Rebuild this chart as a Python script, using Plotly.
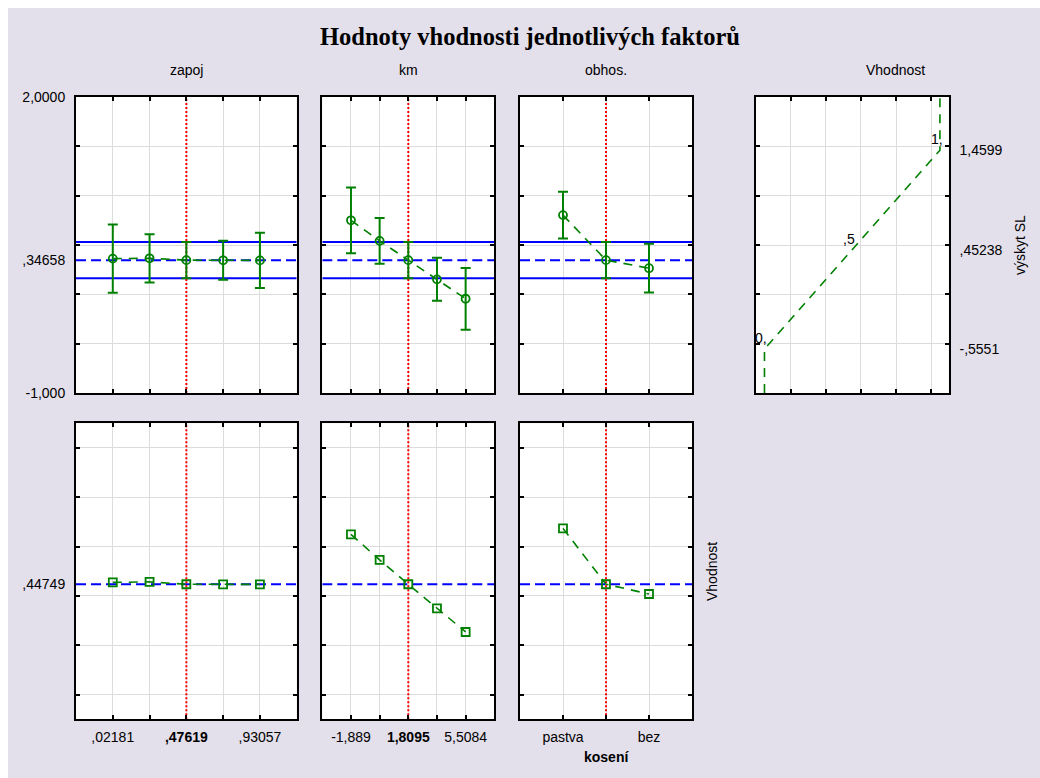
import plotly.graph_objects as go

# ---- data -------------------------------------------------------------
title_text = "Hodnoty vhodnosti jednotlivých faktorů"
factor_names = ["zapoj", "km", "obhos.", "Vhodnost"]

zapoj_levels = [0.02181, 0.24900, 0.47619, 0.70338, 0.93057]
zapoj_labels = [",02181", "", "<b>,47619</b>", "", ",93057"]
zapoj_resp = [0.362, 0.365, 0.3466, 0.345, 0.344]
zapoj_err = [0.345, 0.245, 0.183, 0.197, 0.280]
zapoj_desir = [0.455, 0.457, 0.4475, 0.447, 0.447]
zapoj_current = 0.47619

km_levels = [-1.889, -0.0398, 1.8095, 3.6590, 5.5084]
km_labels = ["-1,889", "", "<b>1,8095</b>", "", "5,5084"]
km_resp = [0.750, 0.542, 0.3466, 0.152, -0.045]
km_err = [0.333, 0.232, 0.183, 0.218, 0.313]
km_desir = [0.650, 0.546, 0.4475, 0.350, 0.254]
km_current = 1.8095

obhos_levels = [1, 2, 3]
obhos_labels = ["pastva", "", "bez"]
obhos_resp = [0.803, 0.3466, 0.265]
obhos_err = [0.237, 0.183, 0.247]
obhos_desir = [0.674, 0.4475, 0.408]
obhos_current = 2
obhos_title = "kosení"

pred_resp = 0.34658
pred_ci = [0.1636, 0.5296]
pred_desir = 0.44749

resp_range = [-1.0, 2.0]
resp_grid = [-0.5, 0.0, 0.5, 1.0, 1.5]
resp_ticks = [-1.0, 0.34658, 2.0]
resp_ticktext = ["-1,000", ",34658", "2,0000"]

desir_range = [-0.1, 1.1]
desir_grid = [0.0, 0.2, 0.4, 0.6, 0.8, 1.0]

# desirability function of the response (výskyt SL)
dfun_resp = [-1.0, -0.5551, 0.45238, 1.4599, 2.0]
dfun_val = [0.0, 0.0, 0.5, 1.0, 1.0]
dfun_knot_resp = [-0.5551, 0.45238, 1.4599]
dfun_knot_val = [0.0, 0.5, 1.0]
dfun_knot_text = ["0,", ",5", "1,"]
dfun_ticktext = ["-,5551", ",45238", "1,4599"]
dfun_x_grid = [0.15, 0.35, 0.55, 0.75, 0.95]
dfun_x_range = [-0.05, 1.05]

# ---- layout geometry (pixels) -----------------------------------------
W, H = 1040, 778
GREEN = "#008000"
BLUE = "#0000FF"
RED = "#FF0000"
GRID = "#DCDCDC"
BG = "#E3DFEB"
FONT = "Liberation Sans, Arial, sans-serif"


def fx(a):
    return a / W


def fy(a):
    return 1 - a / H


def px_x(a, b):
    return [fx(a), fx(b)]


def px_y(top, bottom):
    return [fy(bottom), fy(top)]


cols = [(76, 296.7), (322.3, 494.3), (520, 692), (755.7, 948.7)]
top_row = (97, 393)
bot_row = (423.3, 719.3)

fig = go.Figure()

levels = [zapoj_levels, km_levels, obhos_levels]
resps = [zapoj_resp, km_resp, obhos_resp]
errs = [zapoj_err, km_err, obhos_err]
desirs = [zapoj_desir, km_desir, obhos_desir]
currents = [zapoj_current, km_current, obhos_current]
labels = [zapoj_labels, km_labels, obhos_labels]

DASH_BLUE = "10px,5px"
DASH_GREEN = "9px,7px"
DOT_RED = "2px,2px"


def x_range_for(lv):
    step = lv[1] - lv[0]
    return [lv[0] - step, lv[-1] + step]


# top row: predicted response per factor
for i in range(3):
    xa, ya = f"x{i + 1}", f"y{i + 1}"
    xr = x_range_for(levels[i])
    for yv in pred_ci:
        fig.add_trace(go.Scatter(x=xr, y=[yv, yv], mode="lines",
                                 line=dict(color=BLUE, width=2),
                                 xaxis=xa, yaxis=ya, hoverinfo="skip"))
    fig.add_trace(go.Scatter(x=xr, y=[pred_resp, pred_resp], mode="lines",
                             line=dict(color=BLUE, width=2, dash=DASH_BLUE),
                             xaxis=xa, yaxis=ya, hoverinfo="skip"))
    fig.add_trace(go.Scatter(x=[currents[i], currents[i]], y=resp_range, mode="lines",
                             line=dict(color=RED, width=2, dash=DOT_RED),
                             xaxis=xa, yaxis=ya, hoverinfo="skip"))
    fig.add_trace(go.Scatter(x=levels[i], y=resps[i], mode="lines+markers",
                             line=dict(color=GREEN, width=1.6, dash=DASH_GREEN),
                             marker=dict(symbol="circle-open", size=8, color=GREEN,
                                         line=dict(width=1.8, color=GREEN)),
                             error_y=dict(type="data", array=errs[i], visible=True,
                                          color=GREEN, thickness=2, width=5),
                             xaxis=xa, yaxis=ya))

# bottom row: desirability per factor
for i in range(3):
    xa, ya = f"x{i + 5}", f"y{i + 5}"
    xr = x_range_for(levels[i])
    fig.add_trace(go.Scatter(x=xr, y=[pred_desir, pred_desir], mode="lines",
                             line=dict(color=BLUE, width=2, dash=DASH_BLUE),
                             xaxis=xa, yaxis=ya, hoverinfo="skip"))
    fig.add_trace(go.Scatter(x=[currents[i], currents[i]], y=desir_range, mode="lines",
                             line=dict(color=RED, width=2, dash=DOT_RED),
                             xaxis=xa, yaxis=ya, hoverinfo="skip"))
    fig.add_trace(go.Scatter(x=levels[i], y=desirs[i], mode="lines+markers",
                             line=dict(color=GREEN, width=1.6, dash=DASH_GREEN),
                             marker=dict(symbol="square-open", size=8, color=GREEN,
                                         line=dict(width=1.8, color=GREEN)),
                             xaxis=xa, yaxis=ya))

# desirability function panel
fig.add_trace(go.Scatter(x=dfun_val, y=dfun_resp, mode="lines",
                         line=dict(color=GREEN, width=1.6, dash=DASH_GREEN),
                         xaxis="x4", yaxis="y4"))

frame = dict(showline=True, linecolor="black", linewidth=2, mirror="allticks",
             zeroline=False, automargin=False,
             tickfont=dict(family=FONT, size=14, color="black"))
tick_in = dict(ticks="inside", ticklen=4, tickwidth=2, tickcolor="black")
minor_grid = dict(showgrid=True, gridcolor=GRID, gridwidth=1,
                  ticks="inside", ticklen=4, tickwidth=2, tickcolor="black")

layout_axes = {}
for i in range(3):
    xr = x_range_for(levels[i])
    # top
    layout_axes[f"xaxis{i + 1}"] = dict(
        domain=px_x(*cols[i]), range=xr, anchor=f"y{i + 1}",
        tickvals=levels[i], showticklabels=False, showgrid=True,
        gridcolor=GRID, gridwidth=1, **tick_in, **frame)
    ya = dict(domain=px_y(*top_row), range=resp_range, anchor=f"x{i + 1}",
              showgrid=False, ticks="", minor=dict(tickvals=resp_grid, **minor_grid),
              **frame)
    if i == 0:
        ya.update(tickvals=resp_ticks, ticktext=resp_ticktext, ticklabelstandoff=6)
    else:
        ya.update(tickvals=resp_ticks, showticklabels=False)
    layout_axes[f"yaxis{i + 1}"] = ya
    # bottom
    layout_axes[f"xaxis{i + 5}"] = dict(
        domain=px_x(*cols[i]), range=xr, anchor=f"y{i + 5}",
        tickvals=levels[i], ticktext=labels[i], showgrid=True,
        gridcolor=GRID, gridwidth=1, ticklabelstandoff=4, **tick_in, **frame)
    yb = dict(domain=px_y(*bot_row), range=desir_range, anchor=f"x{i + 5}",
              showgrid=False, ticks="", minor=dict(tickvals=desir_grid, **minor_grid),
              **frame)
    if i == 0:
        yb.update(tickvals=[pred_desir], ticktext=[",44749"], ticklabelstandoff=6)
    else:
        yb.update(tickvals=[pred_desir], showticklabels=False)
    layout_axes[f"yaxis{i + 5}"] = yb

layout_axes["xaxis4"] = dict(domain=px_x(*cols[3]), range=dfun_x_range, anchor="y4",
                             tickvals=dfun_x_grid, showticklabels=False, showgrid=True,
                             gridcolor=GRID, **tick_in, **frame)
layout_axes["yaxis4"] = dict(domain=px_y(*top_row), range=resp_range, anchor="x4",
                             side="right", tickvals=dfun_knot_resp,
                             ticktext=dfun_ticktext, showgrid=False, ticks="",
                             ticklabelstandoff=6,
                             minor=dict(tickvals=resp_grid, **minor_grid), **frame)

text_font = dict(family=FONT, size=14, color="black")


def label(text, x, y, angle=0, font=text_font):
    return dict(text=text, x=fx(x), y=fy(y), xref="paper", yref="paper",
                xanchor="center", yanchor="middle", textangle=angle,
                showarrow=False, font=font)


annotations = [
    label(f"<b>{title_text}</b>", 530, 37,
          font=dict(family="Liberation Serif, Times New Roman, serif",
                    size=24.5, color="black")),
]
title_x = [186, 408, 606, 895]
for name, xc in zip(factor_names, title_x):
    annotations.append(label(name, xc, 70))
annotations.append(label("výskyt SL", 1020, 245, angle=-90))
annotations.append(label("Vhodnost", 712, 572, angle=-90))
annotations.append(label(f"<b>{obhos_title}</b>", 606, 757))
for xv, yv, t in zip(dfun_knot_val, dfun_knot_resp, dfun_knot_text):
    annotations.append(dict(text=t, x=xv, y=yv, xref="x4", yref="y4", showarrow=False,
                            xanchor="right", yanchor="bottom", xshift=5, yshift=1,
                            font=text_font))

# white page border along the top and left edges
shapes = [
    dict(type="rect", xref="paper", yref="paper", x0=0, x1=1, y0=fy(8), y1=1,
         fillcolor="white", line=dict(width=0), layer="below"),
    dict(type="rect", xref="paper", yref="paper", x0=0, x1=fx(8), y0=0, y1=1,
         fillcolor="white", line=dict(width=0), layer="below"),
]

fig.update_layout(template="none", width=W, height=H,
                  margin=dict(l=0, r=0, t=0, b=0, pad=0, autoexpand=False),
                  paper_bgcolor=BG, plot_bgcolor="white", showlegend=False,
                  annotations=annotations, shapes=shapes, **layout_axes)

fig.write_html("out.html")
